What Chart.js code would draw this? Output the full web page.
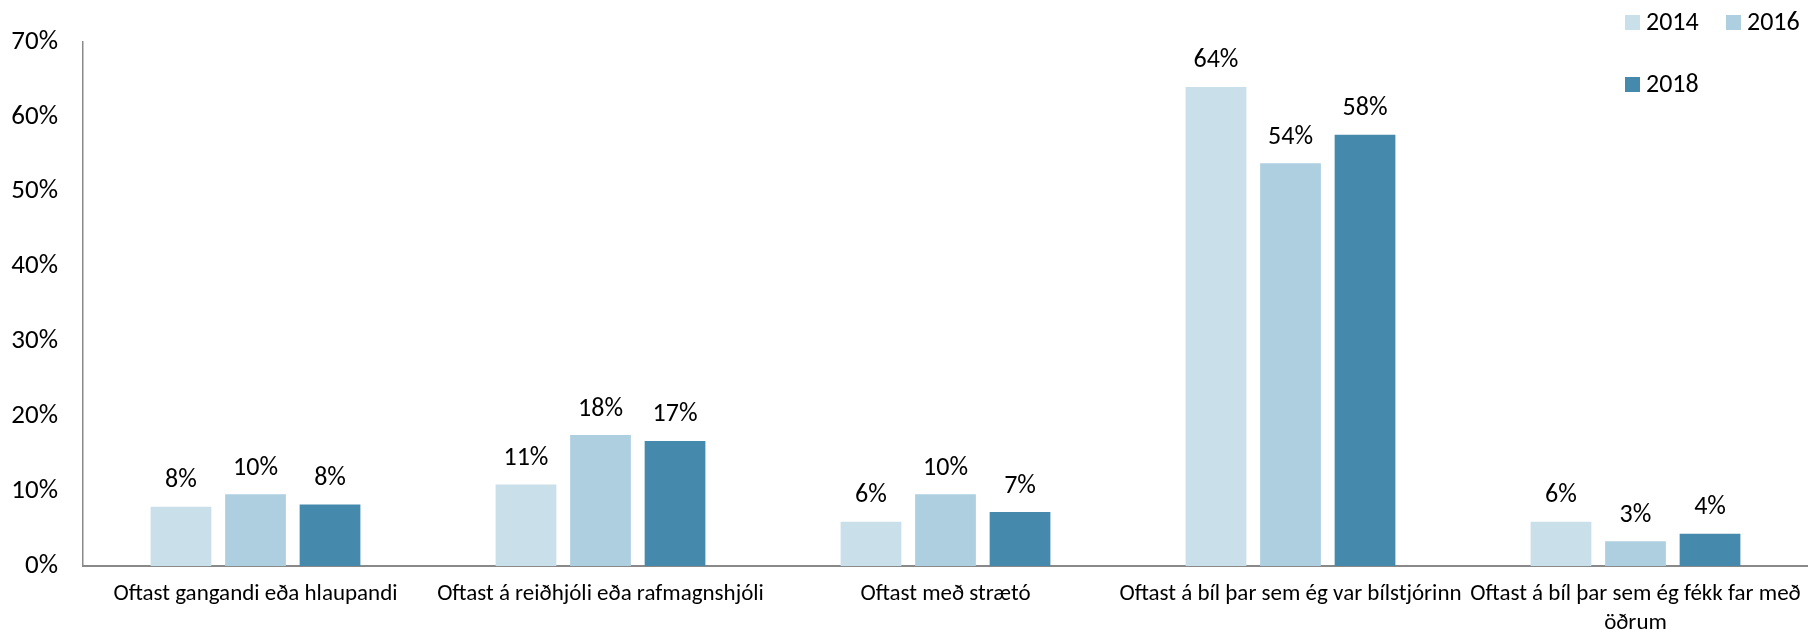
<!DOCTYPE html>
<html>
<head>
<meta charset="utf-8">
<script src="https://cdn.jsdelivr.net/npm/chart.js@4/dist/chart.umd.min.js"></script>
<style>
  html, body { margin: 0; padding: 0; background: #fff; }
  #wrap { width: 1808px; height: 635px; position: relative; }
</style>
</head>
<body>
<div id="wrap"><canvas id="grafico"></canvas></div>
<script>
const categorias = [
    "Oftast gangandi eða hlaupandi",
    "Oftast á reiðhjóli eða rafmagnshjóli",
    "Oftast með strætó",
    "Oftast á bíl þar sem ég var bílstjórinn",
    ["Oftast á bíl þar sem ég fékk far með", "öðrum"]
];
const anos = ["2014", "2016", "2018"];
const valores2014 = [7.9, 10.9, 5.9, 64.0, 5.9];
const valores2016 = [9.6, 17.5, 9.6, 53.8, 3.3];
const valores2018 = [8.2, 16.7, 7.2, 57.6, 4.3];
const ticksY = [0, 10, 20, 30, 40, 50, 60, 70];
const cores = ["#c9dfea", "#aecfe0", "#4589ad"];

const FONTE = "Carlito, Lato, sans-serif";

// rótulos em cima das barras
const pluginRotulos = {
    id: "rotulos",
    afterDatasetsDraw(chart) {
        const ctx = chart.ctx;
        ctx.save();
        ctx.font = "26px " + FONTE;
        ctx.fillStyle = "#000";
        ctx.textAlign = "center";
        ctx.textBaseline = "bottom";
        chart.data.datasets.forEach((ds, i) => {
            chart.getDatasetMeta(i).data.forEach((bar, j) => {
                ctx.fillText(Math.round(ds.data[j]) + "%", bar.x, bar.y - 13);
            });
        });
        ctx.restore();
    }
};

// legenda em duas linhas no canto superior direito
const pluginLegenda = {
    id: "legendaCustom",
    afterDraw(chart) {
        const ctx = chart.ctx;
        const pos = [[1625, 15], [1726, 15], [1625, 77]];
        ctx.save();
        ctx.font = "26px " + FONTE;
        ctx.textBaseline = "middle";
        ctx.textAlign = "left";
        chart.data.datasets.forEach((ds, i) => {
            const [x, y] = pos[i];
            ctx.fillStyle = ds.backgroundColor;
            ctx.fillRect(x, y, 15, 15);
            ctx.fillStyle = "#000";
            ctx.fillText(ds.label, x + 21, y + 8);
        });
        ctx.restore();
    }
};

const canvas = document.getElementById("grafico");
new Chart(canvas.getContext("2d"), {
    type: "bar",
    data: {
        labels: categorias,
        datasets: [
            { label: anos[0], data: valores2014, backgroundColor: cores[0] },
            { label: anos[1], data: valores2016, backgroundColor: cores[1] },
            { label: anos[2], data: valores2018, backgroundColor: cores[2] }
        ]
    },
    options: {
        responsive: true,
        maintainAspectRatio: false,
        animation: false,
        categoryPercentage: 0.648,
        barPercentage: 0.815,
        layout: { padding: { top: 42, right: 0, left: 0, bottom: 0 } },
        plugins: {
            legend: { display: false },
            tooltip: { enabled: false }
        },
        scales: {
            x: {
                grid: { display: false, drawTicks: false },
                border: { color: "#898989", width: 2 },
                ticks: {
                    color: "#000",
                    font: { family: FONTE, size: 23, lineHeight: 1.25 },
                    maxRotation: 0,
                    autoSkip: false,
                    padding: 14
                },
                afterFit(scale) {
                    scale.height = 69;
                    // rótulos podem passar da borda, como no original
                    scale.paddingLeft = 0;
                    scale.paddingRight = 0;
                }
            },
            y: {
                min: 0,
                max: 70,
                grid: { display: false, drawTicks: false },
                border: { color: "#898989", width: 1.5 },
                afterBuildTicks(scale) { scale.ticks = ticksY.map(v => ({ value: v })); },
                ticks: {
                    color: "#000",
                    font: { family: FONTE, size: 27 },
                    padding: 25,
                    callback: v => v + "%"
                },
                afterFit(scale) { scale.width = 83; }
            }
        }
    },
    plugins: [pluginRotulos, pluginLegenda]
});
</script>
</body>
</html>
